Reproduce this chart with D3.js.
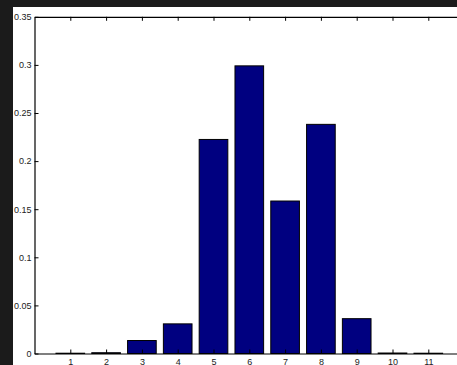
<!DOCTYPE html>
<html>
<head>
<meta charset="utf-8">
<script src="https://cdn.jsdelivr.net/npm/d3@7"></script>
<style>
  body { margin: 0; background: #1b1b1b; }
  svg { display: block; }
  .tick text { font-family: "Liberation Sans", Arial, sans-serif; font-size: 9px; fill: #222; }
</style>
</head>
<body>
<div class="canvas"></div>
<script>
// data
const categories = [1, 2, 3, 4, 5, 6, 7, 8, 9, 10, 11];
const values = [0.0003, 0.0008, 0.0135, 0.0308, 0.2225, 0.2990, 0.1585, 0.2382, 0.0362, 0.0005, 0.0003];
const yTicks = [0, 0.05, 0.1, 0.15, 0.2, 0.25, 0.3, 0.35];
const xTicks = [1, 2, 3, 4, 5, 6, 7, 8, 9, 10, 11];

const width = 457, height = 365;

const svg = d3.select('.canvas')
    .append('svg')
        .attr('width', width)
        .attr('height', height);

// dark surround and white figure
svg.append('rect')
    .attr('width', width).attr('height', height)
    .attr('fill', '#1b1b1b');
svg.append('rect')
    .attr('x', 13).attr('y', 7)
    .attr('width', width - 13).attr('height', height - 7)
    .attr('fill', '#fff');

const x = d3.scaleLinear()
    .domain([0, 12])
    .range([34.5, 34.5 + 12 * 35.8]);

const y = d3.scaleLinear()
    .domain([0, 0.35])
    .range([353.5, 16.8]);

const graph = svg.append('g');

// bars, 0.8 wide like matlab default
graph.selectAll('rect.bar')
    .data(values)
    .enter()
    .append('rect')
        .attr('class', 'bar')
        .attr('x', (d, i) => x(categories[i] - 0.4))
        .attr('width', x(0.8) - x(0))
        .attr('y', d => y(d))
        .attr('height', d => y(0) - y(d))
        .attr('fill', '#000080')
        .attr('stroke', '#000')
        .attr('stroke-width', 1);

// axes with inward ticks
const xAxis = d3.axisBottom(x)
    .tickValues(xTicks)
    .tickFormat(d3.format('d'))
    .tickSizeInner(-4)
    .tickSizeOuter(0)
    .tickPadding(5);

const yAxis = d3.axisLeft(y)
    .tickValues(yTicks)
    .tickFormat(d => d === 0 ? '0' : String(+d.toFixed(2)))
    .tickSizeInner(-4)
    .tickSizeOuter(0)
    .tickPadding(3);

const topAxis = d3.axisTop(x)
    .tickValues(xTicks)
    .tickFormat('')
    .tickSizeInner(-4)
    .tickSizeOuter(0);

graph.append('g')
    .attr('transform', `translate(0, ${y(0)})`)
    .call(xAxis);
graph.append('g')
    .attr('transform', `translate(${x(0)}, 0)`)
    .call(yAxis);
graph.append('g')
    .attr('transform', `translate(0, ${y(0.35)})`)
    .call(topAxis);

svg.selectAll('.domain').attr('stroke', '#000').attr('stroke-width', 1.2);
svg.selectAll('.tick line').attr('stroke', '#000');
</script>
</body>
</html>
